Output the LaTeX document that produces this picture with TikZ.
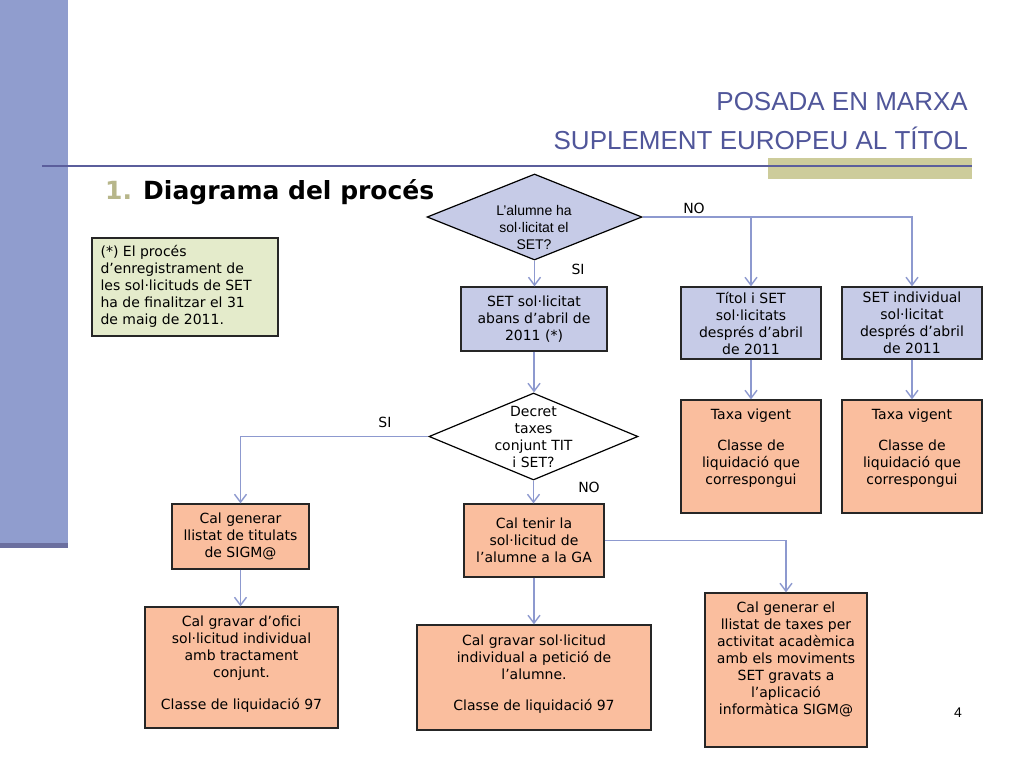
\documentclass[tikz,border=0pt]{standalone}
\usepackage{fontspec}
\setmainfont{DejaVu Sans}
\newfontfamily\arialf{Liberation Sans}
\usetikzlibrary{arrows.meta,shapes.geometric,calc}
\definecolor{side}{HTML}{909DCE}
\definecolor{sidedark}{HTML}{6B6F9F}
\definecolor{bluef}{HTML}{C6CBE7}
\definecolor{orf}{HTML}{FABE9E}
\definecolor{notef}{HTML}{E4EBCB}
\definecolor{conn}{HTML}{8D99CF}
\definecolor{titlec}{HTML}{50569A}
\definecolor{olive}{HTML}{CDCC9B}
\definecolor{hline}{HTML}{5B5E9C}
\definecolor{numc}{HTML}{B7B68A}
\definecolor{boxline}{HTML}{262626}
\tikzset{
  vtext/.style={font=\fontsize{14}{17}\selectfont},
  box/.style={draw=boxline, line width=1.3pt, inner sep=0pt, align=center, vtext},
  bluebox/.style={box, fill=bluef},
  orbox/.style={box, fill=orf},
  txt/.style={align=center, inner sep=0pt, vtext},
  decision/.style={diamond, draw=black, line width=1.2pt, inner sep=0pt, shape aspect=2.5},
  arr/.style={draw=conn, line width=1.4pt, -{Straight Barb[length=8pt,width=12pt]}},
  lbl/.style={inner sep=0pt, vtext}
}
\begin{document}
\begin{tikzpicture}[x=1pt,y=-1pt]
\useasboundingbox (0,0) rectangle (1024,768);
\fill[white] (0,0) rectangle (1024,768);
% sidebar
\fill[side] (0,0) rectangle (68,543);
\fill[sidedark] (0,543) rectangle (68,548);
% header band
\fill[olive] (768,158) rectangle (972,179);
\draw[hline, line width=2pt] (42,166) -- (972,166);
% titles
\node[anchor=base east, inner sep=0pt, text=titlec, font=\arialf\fontsize{26}{30}\selectfont] (t1line) at (968,110) {POSADA EN MARXA};
\node[anchor=base east, inner sep=0pt, text=titlec, font=\arialf\fontsize{26}{30}\selectfont] (t2line) at (968,149) {SUPLEMENT EUROPEU AL TÍTOL};
\node[anchor=base west, inner sep=0pt, text=numc, font=\bfseries\fontsize{25}{30}\selectfont] (num) at (105,199) {1.};
\node[anchor=base west, inner sep=0pt, font=\bfseries\fontsize{25}{30}\selectfont] (head) at (143,199) {Diagrama del procés};
% note
\node[draw=boxline, line width=1.3pt, fill=notef, minimum width=186pt, minimum height=98pt, inner sep=0pt] (note) at (185,287) {};
\node[txt, align=left, anchor=north west] (notetxt) at ([xshift=9pt,yshift=-8pt]note.north west) {(*) El procés\\d’enregistrament de\\les sol·licituds de SET\\ha de finalitzar el 31\\de maig de 2011.};
% decision 1
\node[decision, fill=bluef, minimum width=215pt, minimum height=86pt] (q1) at (534.5,217) {};
\node[txt, font=\arialf\fontsize{14}{17}\selectfont] (q1txt) at (534,227) {L’alumne ha\\sol·licitat el\\SET?};
% row 1 boxes
\node[bluebox, minimum width=146pt, minimum height=64pt] (b1) at (534,319) {SET sol·licitat\\abans d’abril de\\2011 (*)};
\node[bluebox, minimum width=140pt, minimum height=72pt] (b2) at (751,323) {Títol i SET\\sol·licitats\\després d’abril\\de 2011};
\node[bluebox, minimum width=140pt, minimum height=72pt] (b3) at (912,323) {SET individual\\sol·licitat\\després d’abril\\de 2011};
% taxa boxes
\node[orbox, minimum width=140pt, minimum height=113pt] (t1) at (751,456.5) {};
\node[txt, anchor=north] (t1txt) at ([yshift=-9pt]t1.north) {Taxa vigent\\[14pt]Classe de\\liquidació que\\correspongui};
\node[orbox, minimum width=140pt, minimum height=113pt] (t2) at (912,456.5) {};
\node[txt, anchor=north] (t2txt) at ([yshift=-9pt]t2.north) {Taxa vigent\\[14pt]Classe de\\liquidació que\\correspongui};
% decision 2
\node[decision, fill=white, minimum width=209pt, minimum height=87pt] (q2) at (533.5,436.5) {};
\node[txt] (q2txt) at (533.5,436.5) {Decret\\taxes\\conjunt TIT\\i SET?};
% row 3
\node[orbox, minimum width=137pt, minimum height=65pt] (c1) at (240.5,536.5) {Cal generar\\llistat de titulats\\de SIGM@};
\node[orbox, minimum width=140pt, minimum height=73pt] (c2) at (534,540.5) {Cal tenir la\\sol·licitud de\\l’alumne a la GA};
% row 4
\node[orbox, minimum width=193pt, minimum height=121pt] (g1) at (241.5,667.5) {};
\node[txt, anchor=north] (g1txt) at ([yshift=-9pt]g1.north) {Cal gravar d’ofici\\sol·licitud individual\\amb tractament\\conjunt.\\[15pt]Classe de liquidació 97};
\node[orbox, minimum width=234pt, minimum height=105pt] (g2) at (534,677.5) {};
\node[txt, anchor=north] (g2txt) at ([yshift=-10pt]g2.north) {Cal gravar sol·licitud\\individual a petició de\\l’alumne.\\[14pt]Classe de liquidació 97};
\node[orbox, minimum width=162pt, minimum height=154pt] (g3) at (786,670) {};
\node[txt, anchor=north] (g3txt) at ([yshift=-9pt]g3.north) {Cal generar el\\llistat de taxes per\\activitat acadèmica\\amb els moviments\\SET gravats a\\l’aplicació\\informàtica SIGM@};
% connectors
\draw[arr] (q1.south) -- (q1.south |- b1.north);
\draw[arr] (q1.east) -| (b3.north);
\draw[arr] (b2.north |- q1.east) -- (b2.north);
\draw[arr] (b2.south) -- (t1.north);
\draw[arr] (b3.south) -- (t2.north);
\draw[arr] (b1.south) -- (b1.south |- q2.north);
\draw[arr] (q2.west) -| (c1.north);
\draw[arr] (q2.south) -- (q2.south |- c2.north);
\draw[arr] (c1.south) -- (c1.south |- g1.north);
\draw[arr] (c2.south) -- (g2.north);
\draw[arr] (c2.east) -| (g3.north);
% labels
\node[lbl] (si1) at (578,269) {SI};
\node[lbl] (no1) at (694,208) {NO};
\node[lbl] (si2) at (385,422) {SI};
\node[lbl] (no2) at (589,487) {NO};
\node[inner sep=0pt, font=\arialf\fontsize{14}{17}\selectfont] (page) at (958,713) {4};
\end{tikzpicture}
\end{document}
